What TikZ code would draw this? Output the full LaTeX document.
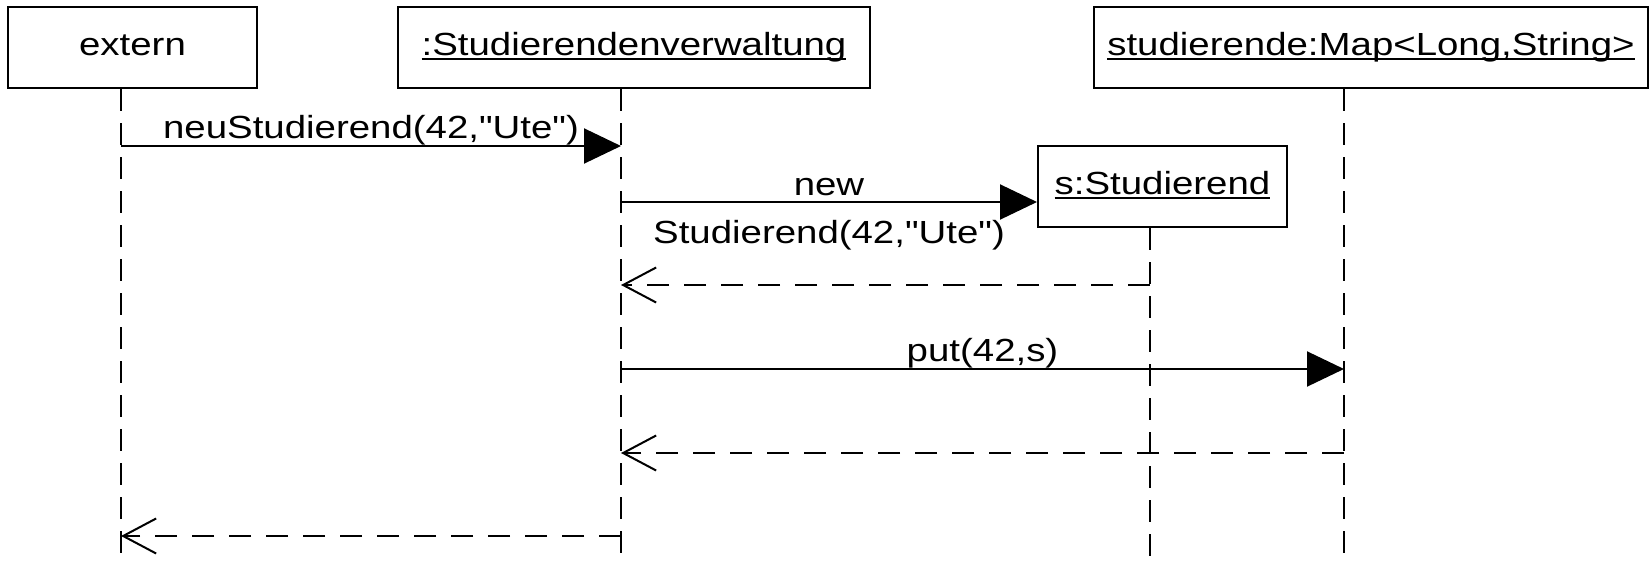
\documentclass[tikz,border=0pt]{standalone}
\usepackage{fontspec}
\setmainfont[FakeStretch=1.2,Ligatures=TeXOff]{Liberation Sans}
\usetikzlibrary{arrows.meta}
\newcommand{\objname}[1]{\setbox0\hbox{#1}\rlap{\rule[-5pt]{\wd0}{2pt}}\box0}
\begin{document}
\begin{tikzpicture}[x=1pt,y=-1pt,line width=2pt,font=\fontsize{32}{38}\selectfont,
  obj/.style={draw,inner sep=0pt,minimum height=81pt,text height=23pt,text depth=8pt},
  lifeline/.style={line width=1.5pt,dash pattern=on 22pt off 12pt},
  call/.style={-{Triangle[length=37pt,width=35pt]}},
  reply/.style={dash pattern=on 22pt off 15pt,-{Straight Barb[length=33pt,width=35pt]}},
  msglabel/.style={midway,above,inner sep=0pt}]
  \useasboundingbox (0,0) rectangle (1650,565);
  \node[obj,minimum width=249pt] (extern) at (132.5,47.5) {extern};
  \node[obj,minimum width=472pt] (verw) at (634,47.5) {\objname{:Studierendenverwaltung}};
  \node[obj,minimum width=554pt] (map) at (1371,47.5) {\objname{studierende:Map<Long,String>}};
  \node[obj,minimum width=249pt] (stud) at (1162.5,186.5) {\objname{s:Studierend}};

  \coordinate (extern end) at (121,565);
  \coordinate (verw end) at (621,565);
  \coordinate (stud end) at (1150,565);
  \coordinate (map end) at (1344,565);
  \draw[lifeline] (extern.south -| extern end) -- (extern end);
  \draw[lifeline] (verw.south -| verw end) -- (verw end);
  \draw[lifeline] (stud.south -| stud end) -- (stud end);
  \draw[lifeline] (map.south -| map end) -- (map end);

  \coordinate (y1) at (0,146);
  \coordinate (y2) at (0,202);
  \coordinate (y3) at (0,285);
  \coordinate (y4) at (0,369);
  \coordinate (y5) at (0,453);
  \coordinate (y6) at (0,536);
  \draw[call] (extern end |- y1) -- node[msglabel] {neuStudierend(42,"Ute")} (verw end |- y1);
  \draw[call] (verw end |- y2) -- node[midway,inner sep=0pt,yshift=-12pt,align=center,
    font=\fontsize{32}{48}\selectfont] {new\\Studierend(42,"Ute")} (stud.west |- y2);
  \draw[reply] (stud end |- y3) -- (verw end |- y3);
  \draw[call] (verw end |- y4) -- node[msglabel] {put(42,s)} (map end |- y4);
  \draw[reply] (map end |- y5) -- (verw end |- y5);
  \draw[reply] (verw end |- y6) -- (extern end |- y6);
\end{tikzpicture}
\end{document}
